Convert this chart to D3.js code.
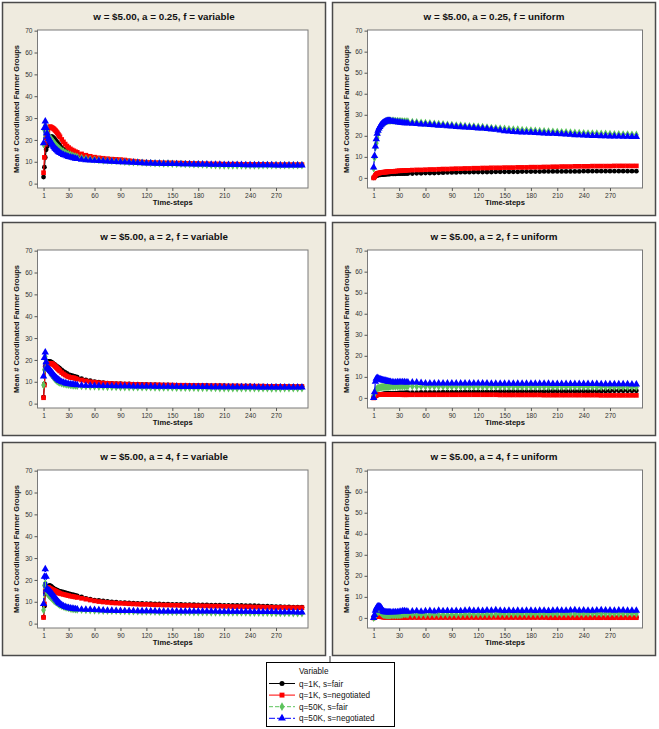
<!DOCTYPE html>
<html><head><meta charset="utf-8">
<script src="https://cdn.jsdelivr.net/npm/d3@7"></script>
<style>body{margin:0;background:#fff}svg{display:block}</style>
</head><body>
<script>
// ---------- DATA ----------
const timeSteps = [1,2,3,4,5,6,7,8,9,10,11,12,13,14,15,16,17,18,19,20,
  22,24,26,28,30,32,34,36,38,40,
  45,50,55,60,65,70,75,80,85,90,95,100,105,110,115,120,125,130,135,140,
  145,150,155,160,165,170,175,180,185,190,195,200,205,210,215,220,225,230,235,240,
  245,250,255,260,265,270,275,280,285,290,295,300];
const xTicks = [1,30,60,90,120,150,180,210,240,270];
const yTicks = [0,10,20,30,40,50,60,70];
const seriesNames = ["q=1K, s=fair","q=1K, s=negotiated","q=50K, s=fair","q=50K, s=negotiated"];
const panelTitles = ["w = $5.00, a = 0.25, f = variable","w = $5.00, a = 0.25, f = uniform",
  "w = $5.00, a = 2, f = variable","w = $5.00, a = 2, f = uniform",
  "w = $5.00, a = 4, f = variable","w = $5.00, a = 4, f = uniform"];

// a = 0.25, f = variable
const v025_fair1K = [3,7.5,12,15.5,17,18,19.5,20.5,21,21.5,21.5,21.2,20.8,20.3,19.8,19.3,18.8,18.3,17.8,17.3,
  16.5,15.8,15.2,14.7,14.2,13.8,13.4,13.0,12.7,12.4,
  11.9,11.5,11.2,10.9,10.7,10.5,10.4,10.3,10.2,10.0, 9.9,9.8,9.7,9.6,9.5,9.4,9.4,9.3,9.3,9.2,
  9.2,9.1,9.1,9.0,9.0,9.0,8.9,8.9,8.9,8.8, 8.8,8.8,8.7,8.7,8.7,8.7,8.6,8.6,8.6,8.6,
  8.6,8.6,8.5,8.5,8.5,8.5,8.5,8.5,8.5,8.5, 8.5,8.5];
const v025_neg1K = [5,12,18,21,22,24,25.5,26,26,25.8,25.6,25.3,25,24.6,24.2,23.7,23.2,22.6,22,21.4,
  20.2,19.1,18.1,17.2,16.5,15.9,15.4,15.0,14.6,14.3,
  13.6,13.0,12.5,12.1,11.8,11.6,11.4,11.2,11.1,11.0, 10.8,10.5,10.3,10.1,9.9,9.8,9.7,9.6,9.6,9.5,
  9.5,9.5,9.4,9.4,9.3,9.3,9.2,9.2,9.1,9.1, 9.0,9.0,9.0,8.9,8.9,8.9,8.9,8.8,8.8,8.8,
  8.8,8.8,8.8,8.8,8.7,8.7,8.7,8.7,8.7,8.7, 8.7,8.7];
const v025_fair50K = [18,24.5,26.5,26,24.5,23,22,21.3,20.8,20.3,19.8,19.3,18.8,18.3,17.8,17.3,16.9,16.5,16.1,15.8,
  15.2,14.7,14.2,13.8,13.5,13.2,12.9,12.6,12.4,12.2,
  11.8,11.5,11.2,11.0,10.8,10.6,10.5,10.4,10.3,10.2, 10.0,9.9,9.8,9.7,9.6,9.5,9.4,9.3,9.3,9.2,
  9.2,9.1,9.0,9.0,8.9,8.9,8.8,8.8,8.7,8.6, 8.5,8.4,8.3,8.3,8.2,8.2,8.2,8.3,8.3,8.3,
  8.3,8.3,8.4,8.4,8.4,8.4,8.4,8.4,8.4,8.4, 8.4,8.4];
const v025_neg50K = [18.5,25.5,28.5,25.5,23,21.5,20.5,19.8,19.2,18.6,18,17.4,16.8,16.3,15.9,15.5,15.1,14.7,14.4,14.1,
  13.6,13.2,12.9,12.6,12.3,12.1,11.9,11.7,11.5,11.3,
  11.0,10.8,10.6,10.5,10.4,10.3,10.2,10.1,10.0,9.9, 9.8,9.7,9.6,9.5,9.4,9.3,9.3,9.2,9.2,9.1,
  9.1,9.0,9.0,8.9,8.9,8.9,8.8,8.8,8.8,8.8, 8.7,8.7,8.7,8.6,8.6,8.6,8.6,8.6,8.5,8.5,
  8.5,8.5,8.5,8.5,8.5,8.4,8.4,8.4,8.4,8.4, 8.4,8.4];

// a = 0.25, f = uniform
const u025_fair1K = [0,0.3,0.8,1.0,1.2,1.3,1.4,1.5,1.5,1.6,1.6,1.6,1.7,1.7,1.7,1.8,1.8,1.8,1.8,1.9,
  1.9,1.9,1.9,2.0,2.0,2.0,2.0,2.0,2.1,2.1,
  2.1,2.2,2.2,2.3,2.3,2.3,2.4,2.5,2.6,2.6, 2.6,2.7,2.7,2.7,2.8,2.8,2.8,2.8,2.8,2.9,
  2.9,2.9,2.9,2.9,2.9,3.0,3.0,3.0,3.0,3.0, 3.1,3.1,3.1,3.1,3.1,3.1,3.1,3.1,3.1,3.2,
  3.2,3.2,3.2,3.2,3.2,3.2,3.2,3.2,3.2,3.2, 3.2,3.2];
const u025_neg1K = [0,0.5,1.2,1.8,2.1,2.2,2.3,2.4,2.5,2.6,2.6,2.7,2.7,2.8,2.8,2.9,2.9,2.9,3.0,3.0,
  3.1,3.1,3.2,3.3,3.4,3.4,3.5,3.5,3.6,3.6,
  3.7,3.8,3.8,3.9,4.0,4.0,4.1,4.2,4.2,4.3, 4.4,4.4,4.5,4.5,4.6,4.6,4.7,4.7,4.8,4.8,
  4.8,4.9,4.9,4.9,5.0,5.0,5.0,5.1,5.1,5.1, 5.2,5.2,5.3,5.3,5.4,5.4,5.4,5.5,5.5,5.5,
  5.5,5.6,5.6,5.6,5.6,5.6,5.7,5.7,5.7,5.7, 5.7,5.7];
const u025_fair50K = [4.5,9.5,14.5,16.5,19,21,22.5,23.5,24.3,25,25.5,26,26.3,26.6,26.8,27,27.1,27.2,27.2,27.2,
  27.2,27.2,27.1,27.1,27.0,27.0,26.9,26.9,26.8,26.8,
  26.6,26.5,26.3,26.1,26.0,25.8,25.7,25.5,25.3,25.2, 25.0,24.9,24.7,24.6,24.5,24.3,24.2,24.0,23.8,23.7,
  23.5,23.4,23.2,23.1,23.0,22.8,22.7,22.6,22.5,22.3, 22.2,22.1,22.0,21.9,21.8,21.7,21.6,21.5,21.4,21.3,
  21.2,21.2,21.1,21.0,21.0,20.9,20.8,20.8,20.7,20.7, 20.6,20.5];
const u025_neg50K = [5,10.5,15,18.5,21,22.5,23.5,24.3,25,25.5,25.9,26.2,26.5,26.7,26.9,27,27.1,27.1,27.1,27.0,
  26.9,26.8,26.6,26.5,26.4,26.3,26.2,26.1,26.0,26.0,
  25.8,25.7,25.5,25.4,25.2,25.1,24.9,24.8,24.6,24.5, 24.3,24.2,24.0,23.9,23.8,23.6,23.5,23.3,23.1,22.9,
  22.6,22.3,22.1,21.9,21.8,21.7,21.6,21.5,21.4,21.3, 21.2,21.1,21.0,20.9,20.8,20.7,20.6,20.4,20.3,20.2,
  20.1,20.0,20.0,19.9,19.9,19.8,19.8,19.7,19.6,19.6, 19.5,19.5];

// a = 2, f = variable
const v2_fair1K = [3,9,17,18.5,19,19.2,19.3,19.3,19.2,19.0,18.7,18.4,18.1,17.8,17.5,17.2,16.9,16.6,16.3,16.0,
  15.4,14.8,14.3,13.8,13.3,13.0,12.8,12.6,12.4,12.1,
  11.4,10.9,10.5,10.1,9.8,9.6,9.4,9.3,9.2,9.1, 9.0,9.0,8.9,8.9,8.8,8.8,8.7,8.7,8.6,8.6,
  8.6,8.5,8.5,8.4,8.4,8.4,8.3,8.3,8.3,8.3, 8.2,8.2,8.2,8.2,8.1,8.1,8.1,8.1,8.1,8.1,
  8.0,8.0,8.0,8.0,8.0,8.0,8.0,7.9,7.9,7.9, 7.9,7.9];
const v2_neg1K = [2.7,8.5,16.5,17.5,17.8,18.0,18.2,18.3,18.4,18.4,18.2,18.0,17.7,17.3,16.9,16.5,16.1,15.7,15.3,14.9,
  14.2,13.6,13.1,12.6,12.3,12.0,11.9,11.8,11.5,11.2,
  10.8,10.4,10.0,9.8,9.6,9.4,9.3,9.2,9.1,9.0, 8.9,8.9,8.8,8.8,8.7,8.7,8.6,8.6,8.6,8.5,
  8.5,8.5,8.4,8.4,8.4,8.3,8.3,8.3,8.3,8.2, 8.2,8.2,8.2,8.1,8.1,8.1,8.1,8.0,8.0,8.0,
  8.0,8.0,8.0,7.9,7.9,7.9,7.9,7.9,7.8,7.8, 7.8,7.8];
const v2_fair50K = [8.5,15.5,21.5,19.5,16.8,15.8,15.2,14.6,14.0,13.4,12.9,12.4,11.9,11.4,11.0,10.6,10.3,10.0,9.8,9.6,
  9.3,9.1,8.9,8.7,8.6,8.5,8.4,8.3,8.2,8.1,
  8.0,7.9,7.8,7.8,7.7,7.7,7.6,7.6,7.6,7.5, 7.5,7.5,7.5,7.4,7.4,7.4,7.4,7.3,7.3,7.3,
  7.3,7.3,7.2,7.2,7.2,7.2,7.2,7.1,7.1,7.1, 7.1,7.1,7.0,7.0,7.0,7.0,7.0,7.0,7.0,7.0,
  7.0,7.0,7.0,7.0,6.9,6.9,6.9,7.0,7.0,7.0, 7.0,7.0];
const v2_neg50K = [12.5,21,23.5,19,16.5,16.2,15.9,15.5,15.0,14.5,14.0,13.5,13.0,12.5,12.1,11.7,11.3,11.0,10.7,10.4,
  10.0,9.7,9.4,9.2,9.0,8.9,8.8,8.7,8.6,8.5,
  8.4,8.3,8.3,8.2,8.2,8.1,8.1,8.1,8.0,8.0, 8.0,8.0,7.9,7.9,7.9,7.9,7.9,7.8,7.8,7.8,
  7.8,7.8,7.8,7.7,7.7,7.7,7.7,7.7,7.7,7.7, 7.6,7.6,7.6,7.6,7.6,7.6,7.6,7.6,7.6,7.6,
  7.6,7.5,7.5,7.5,7.5,7.5,7.5,7.5,7.5,7.5, 7.5,7.5];

// a = 2, f = uniform
const u2_fair1K = [0.3,0.5,0.8,1.0,1.3,1.4,1.5,1.6,1.7,1.8,1.8,1.9,1.9,2.0,2.0,2.0,2.1,2.1,2.1,2.2,
  2.2,2.2,2.3,2.3,2.4,2.4,2.4,2.4,2.5,2.5,
  2.5,2.5,2.6,2.6,2.6,2.6,2.6,2.7,2.7,2.7, 2.7,2.7,2.8,2.8,2.8,2.8,2.8,2.8,2.9,2.9,
  3.0,3.0,3.0,3.0,3.0,3.0,3.0,3.0,3.0,3.0, 3.0,3.1,3.1,3.1,3.1,3.1,3.1,3.1,3.1,3.1,
  3.1,3.1,3.1,3.2,3.2,3.3,3.4,3.4,3.4,3.4, 3.4,3.4];
const u2_neg1K = [0,0.5,1.0,1.4,1.6,1.7,1.7,1.7,1.7,1.7,1.7,1.7,1.6,1.6,1.6,1.6,1.6,1.6,1.6,1.6,
  1.6,1.6,1.6,1.6,1.6,1.6,1.5,1.5,1.5,1.5,
  1.5,1.5,1.5,1.5,1.5,1.5,1.5,1.5,1.5,1.5, 1.5,1.5,1.5,1.5,1.5,1.5,1.5,1.5,1.5,1.5,
  1.4,1.4,1.4,1.4,1.4,1.4,1.4,1.4,1.4,1.4, 1.3,1.3,1.3,1.3,1.3,1.3,1.3,1.3,1.3,1.3,
  1.3,1.3,1.3,1.2,1.2,1.2,1.2,1.2,1.2,1.2, 1.2,1.2];
const u2_fair50K = [1.0,2.0,3.5,4.0,4.5,4.7,4.8,4.9,5.0,5.1,5.2,5.2,5.2,5.3,5.3,5.3,5.3,5.3,5.4,5.4,
  5.4,5.4,5.5,5.5,5.5,5.5,5.5,5.5,5.5,5.5,
  5.5,5.4,5.4,5.4,5.4,5.4,5.4,5.4,5.3,5.3, 5.3,5.3,5.3,5.3,5.3,5.3,5.3,5.3,5.3,5.3,
  5.3,5.3,5.3,5.3,5.2,5.2,5.2,5.2,5.2,5.2, 5.2,5.2,5.2,5.2,5.2,5.2,5.2,5.2,5.2,5.2,
  5.2,5.2,5.1,5.1,5.1,5.1,5.1,5.1,5.1,5.1, 5.1,5.1];
const u2_neg50K = [0,2.7,7.8,9.2,9.5,9.3,9.1,8.9,8.8,8.6,8.5,8.4,8.3,8.2,8.1,8.0,7.9,7.8,7.7,7.6,
  7.5,7.4,7.4,7.5,7.5,7.5,7.5,7.5,7.4,7.4,
  7.4,7.4,7.2,6.9,6.9,6.9,6.9,6.9,6.9,6.9, 6.9,6.9,6.9,6.9,6.9,6.9,6.9,6.9,6.8,6.8,
  6.8,6.8,6.8,6.8,6.8,6.8,6.8,6.8,6.8,6.8, 6.8,6.8,6.7,6.7,6.7,6.7,6.7,6.7,6.7,6.7,
  6.7,6.7,6.7,6.6,6.6,6.6,6.6,6.6,6.6,6.6, 6.5,6.5];

// a = 4, f = variable
const v4_fair1K = [3,8,14,15,15.5,16.5,17.2,17.5,17.3,17.0,16.6,16.3,16.0,15.8,15.6,15.4,15.2,15.0,14.9,14.8,
  14.6,14.4,14.2,14.0,13.7,13.5,13.3,13.1,12.9,12.7,
  12.2,11.6,11.2,10.8,10.6,10.4,10.2,10.0,9.8,9.6, 9.6,9.5,9.4,9.3,9.3,9.2,9.1,9.0,9.0,8.9,
  8.9,8.8,8.8,8.8,8.7,8.7,8.7,8.6,8.6,8.6, 8.5,8.5,8.5,8.4,8.4,8.4,8.3,8.3,8.2,8.2,
  8.2,8.1,8.0,8.0,7.9,7.8,7.8,7.7,7.7,7.6, 7.6,7.5];
const v4_neg1K = [2.8,9,15,15.5,16,16.5,16.5,16.2,16.0,15.8,15.6,15.4,15.2,15.0,14.8,14.6,14.4,14.2,14.0,13.8,
  13.6,13.4,13.2,13.0,12.8,12.6,12.5,12.3,12.2,12.0,
  11.6,11.2,10.8,10.4,10.1,9.9,9.7,9.5,9.4,9.3, 9.2,9.1,9.0,8.9,8.8,8.8,8.7,8.6,8.6,8.5,
  8.5,8.4,8.4,8.3,8.3,8.3,8.2,8.2,8.1,8.1, 8.0,8.0,8.0,7.9,7.9,7.8,7.8,7.8,7.7,7.7,
  7.6,7.6,7.6,7.5,7.5,7.4,7.4,7.4,7.3,7.3, 7.3,7.3];
const v4_fair50K = [6.2,17.5,18.5,16.5,14.0,13.5,13.0,12.6,12.2,11.8,11.4,11.0,10.6,10.3,10.0,9.7,9.4,9.1,8.8,8.5,
  8.1,7.8,7.5,7.3,7.1,6.9,6.7,6.6,6.5,6.4,
  6.3,6.2,6.1,6.0,6.0,5.9,5.9,5.8,5.8,5.7, 5.7,5.6,5.6,5.6,5.5,5.5,5.5,5.4,5.4,5.4,
  5.4,5.3,5.3,5.3,5.3,5.3,5.2,5.2,5.2,5.2, 5.1,5.1,5.1,5.1,5.0,5.0,5.0,5.0,5.0,4.9,
  4.9,4.9,4.9,4.9,4.8,4.8,4.8,4.8,4.8,4.7, 4.7,4.7];
const v4_neg50K = [9,21.5,25,21.5,16,15.5,15.3,15.0,14.5,14.0,13.5,13.0,12.5,12.0,11.5,11.0,10.5,10.0,9.5,9.2,
  8.6,8.1,7.7,7.4,7.2,7.0,6.9,6.8,6.7,6.6,
  6.5,6.4,6.4,6.3,6.2,6.1,6.0,6.0,5.9,5.9, 5.8,5.8,5.8,5.7,5.7,5.7,5.7,5.7,5.6,5.6,
  5.6,5.6,5.6,5.6,5.6,5.6,5.6,5.6,5.6,5.6, 5.6,5.6,5.5,5.5,5.5,5.5,5.5,5.5,5.5,5.5,
  5.4,5.4,5.4,5.4,5.4,5.4,5.3,5.3,5.3,5.3, 5.2,5.2];

// a = 4, f = uniform
const u4_fair1K = [0,0.2,0.4,0.5,0.6,0.7,0.8,0.8,0.8,0.8,0.7,0.7,0.6,0.6,0.5,0.5,0.5,0.4,0.4,0.4,
  0.4,0.4,0.4,0.3,0.3,0.3,0.3,0.3,0.3,0.3,
  0.3,0.3,0.3,0.3,0.3,0.3,0.3,0.3,0.3,0.3, 0.3,0.3,0.3,0.3,0.3,0.3,0.3,0.3,0.4,0.5,
  0.4,0.3,0.3,0.3,0.3,0.3,0.3,0.3,0.3,0.3, 0.3,0.3,0.3,0.3,0.3,0.3,0.3,0.3,0.3,0.3,
  0.3,0.3,0.3,0.3,0.3,0.3,0.3,0.3,0.3,0.3, 0.3,0.3];
const u4_neg1K = [0,0.3,0.5,0.7,0.8,0.8,0.8,0.7,0.6,0.5,0.5,0.4,0.4,0.3,0.3,0.3,0.3,0.2,0.2,0.2,
  0.2,0.2,0.2,0.2,0.2,0.2,0.2,0.2,0.2,0.2,
  0.2,0.2,0.2,0.2,0.2,0.2,0.2,0.2,0.2,0.2, 0.2,0.2,0.2,0.2,0.2,0.2,0.2,0.2,0.2,0.2,
  0.2,0.2,0.2,0.2,0.2,0.2,0.2,0.2,0.2,0.2, 0.2,0.1,0.1,0.1,0.1,0.1,0.1,0.1,0.1,0.1,
  0.1,0.1,0.1,0.1,0.1,0.1,0.1,0.1,0.1,0.1, 0.1,0.1];
const u4_fair50K = [0,0.5,1.0,1.8,2.5,2.8,3.0,3.0,2.7,2.2,1.8,1.5,1.4,1.3,1.3,1.2,1.2,1.2,1.2,1.2,
  1.2,1.2,1.2,1.2,1.2,1.3,1.6,1.8,1.7,1.6,
  1.6,1.5,1.5,1.5,1.6,1.6,1.6,1.6,1.6,1.6, 1.6,1.6,1.7,1.7,1.7,1.7,1.7,1.7,1.7,1.7,
  1.8,1.8,1.8,1.8,1.8,1.8,1.8,1.8,1.8,1.8, 1.9,1.9,1.9,1.9,1.9,1.9,1.9,1.9,1.9,1.9,
  2.0,2.0,2.0,2.0,2.0,2.0,2.0,2.0,2.0,2.0, 2.0,2.0];
const u4_neg50K = [0,1.5,3.5,4.5,5.3,5.5,5.5,5.4,5.2,4.5,3.5,3.0,2.9,2.8,2.8,2.7,2.7,2.7,2.7,2.7,
  2.7,2.8,2.8,2.8,2.9,3.0,3.2,3.3,3.1,3.0,
  3.1,3.3,3.0,3.2,3.4,3.1,3.5,3.3,3.4,3.3, 3.4,3.3,3.5,3.6,3.4,3.5,3.4,3.6,3.5,3.7,
  3.5,3.4,3.5,3.4,3.5,3.4,3.5,3.5,3.4,3.5, 3.5,3.4,3.5,3.6,3.5,3.5,3.6,3.7,3.5,3.6,
  3.5,3.5,3.6,3.7,3.6,3.6,3.5,3.6,3.6,3.5, 3.5,3.5];

// table built from the arrays above
const panels = [
  {title: panelTitles[0], series: [v025_fair1K, v025_neg1K, v025_fair50K, v025_neg50K]},
  {title: panelTitles[1], series: [u025_fair1K, u025_neg1K, u025_fair50K, u025_neg50K]},
  {title: panelTitles[2], series: [v2_fair1K, v2_neg1K, v2_fair50K, v2_neg50K]},
  {title: panelTitles[3], series: [u2_fair1K, u2_neg1K, u2_fair50K, u2_neg50K]},
  {title: panelTitles[4], series: [v4_fair1K, v4_neg1K, v4_fair50K, v4_neg50K]},
  {title: panelTitles[5], series: [u4_fair1K, u4_neg1K, u4_fair50K, u4_neg50K]}
];

// ---------- DRAWING ----------
const W = 659, H = 729;
const FONT = "'Liberation Sans', Arial, sans-serif";
const svg = d3.select("body").append("svg").attr("width", W).attr("height", H)
  .style("font-family", FONT);

const colors = ["#000000", "#ff0000", "#5cc35c", "#0000ff"];
const symbols = [d3.symbolCircle, d3.symbolSquare, d3.symbolDiamond, d3.symbolTriangle];
const symSizes = [18, 22, 20, 24];
const dashes = [null, null, "4,2", "6,2"];

const colX = [2.5, 332.5], rowY = [2.5, 222.5, 442.5];
const boxW = 323, boxH = 213;
const plotL = 35, plotR = [305.5, 310], plotT = 27.5, plotB = 185.5;
const yMins = [-2, -4.8];

panels.forEach((p, i) => {
  const col = i % 2, row = Math.floor(i / 2);
  const g = svg.append("g").attr("transform", `translate(${colX[col]},${rowY[row]})`);
  g.append("rect").attr("width", boxW).attr("height", boxH)
    .attr("fill", "#efebdf").attr("stroke", "#4a4a4a").attr("stroke-width", 1.5);

  const x = d3.scaleLinear().domain([-6, 307]).range([plotL, plotR[col]]);
  const y = d3.scaleLinear().domain([yMins[col], 70.3]).range([plotB, plotT]);

  g.append("rect").attr("x", plotL).attr("y", plotT)
    .attr("width", plotR[col] - plotL).attr("height", plotB - plotT)
    .attr("fill", "#fff").attr("stroke", "#7a7a7a").attr("stroke-width", 1);

  const xa = g.append("g").attr("transform", `translate(0,${plotB})`)
    .call(d3.axisBottom(x).tickValues(xTicks).tickSize(3).tickPadding(2));
  const ya = g.append("g").attr("transform", `translate(${plotL},0)`)
    .call(d3.axisLeft(y).tickValues(yTicks).tickSize(3).tickPadding(2));
  [xa, ya].forEach(a => {
    a.select(".domain").remove();
    a.selectAll(".tick line").attr("stroke", "#555");
    a.selectAll(".tick text").attr("fill", "#333").style("font-size", "6.6px").style("font-family", FONT);
  });

  g.append("text").attr("x", boxW / 2).attr("y", 17).attr("text-anchor", "middle")
    .style("font-size", "9.8px").style("font-weight", "bold").attr("fill", "#111").text(p.title);
  g.append("text").attr("transform", `translate(13.5,${(plotT + plotB) / 2}) rotate(-90)`)
    .attr("text-anchor", "middle").attr("dy", "0.35em")
    .style("font-size", "7.5px").style("font-weight", "bold").attr("fill", "#111")
    .text("Mean # Coordinated Farmer Groups");
  g.append("text").attr("x", (plotL + plotR[col]) / 2).attr("y", 202).attr("text-anchor", "middle")
    .style("font-size", "7.6px").style("font-weight", "bold").attr("fill", "#111").text("Time-steps");

  p.series.forEach((vals, s) => {
    const pts = vals.map((v, k) => [timeSteps[k], v]).filter(d => d[0] !== undefined);
    const line = d3.line().x(d => x(d[0])).y(d => y(d[1]));
    g.append("path").attr("d", line(pts)).attr("fill", "none")
      .attr("stroke", colors[s]).attr("stroke-width", 1.2)
      .attr("stroke-dasharray", dashes[s]);
    const sym = d3.symbol().type(symbols[s]).size(symSizes[s]);
    g.append("g").selectAll("path").data(pts).join("path")
      .attr("transform", d => `translate(${x(d[0])},${y(d[1])})`)
      .attr("d", sym).attr("fill", colors[s]);
  });
});

// connector line and legend
svg.append("line").attr("x1", 330).attr("x2", 330).attr("y1", 656).attr("y2", 662.5)
  .attr("stroke", "#333").attr("stroke-width", 1);
const lg = svg.append("g");
lg.append("rect").attr("x", 266.5).attr("y", 662.5).attr("width", 128).attr("height", 64)
  .attr("fill", "#fff").attr("stroke", "#000").attr("stroke-width", 1);
lg.append("text").attr("x", 299).attr("y", 674).style("font-size", "8.2px").attr("fill", "#111").text("Variable");
seriesNames.forEach((n, s) => {
  const cy = 683.5 + s * 11.6;
  lg.append("line").attr("x1", 269).attr("x2", 295).attr("y1", cy).attr("y2", cy)
    .attr("stroke", colors[s]).attr("stroke-width", 1).attr("stroke-dasharray", dashes[s]);
  lg.append("path").attr("transform", `translate(282,${cy})`)
    .attr("d", d3.symbol().type(symbols[s]).size(symSizes[s] * 1.1)).attr("fill", colors[s]);
  lg.append("text").attr("x", 299).attr("y", cy + 3).style("font-size", "8.2px").attr("fill", "#111").text(n);
});
</script>
</body></html>
